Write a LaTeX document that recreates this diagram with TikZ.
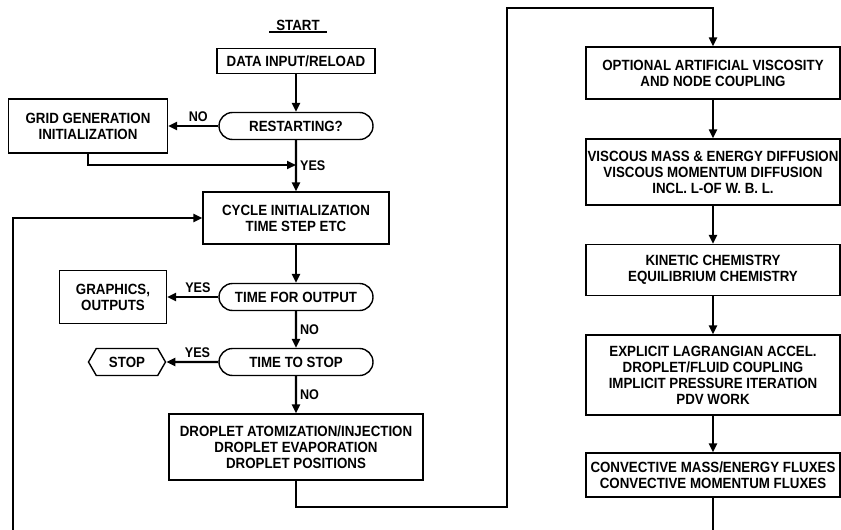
\documentclass[tikz,border=0pt]{standalone}
\usepackage{fontspec}
\setmainfont{Liberation Sans}[FakeStretch=0.9]
\usetikzlibrary{arrows.meta,shapes.misc,shapes.symbols}

\begin{document}
\begin{tikzpicture}[x=1pt,y=-1pt,>={Triangle[length=9pt,width=8pt]},
  font=\bfseries\fontsize{14.8}{16}\selectfont]
  \tikzstyle{process} = [rectangle, draw, line width=1.4pt, align=center, inner xsep=1pt, inner ysep=2pt]
  \tikzstyle{decision} = [rounded rectangle, draw, line width=1.4pt, minimum width=158pt,
                                    minimum height=27pt, inner sep=2pt]
  \tikzstyle{halt} = [signal, signal to=west and east, signal pointer angle=120, draw,
                                    line width=1.4pt, minimum width=77pt, minimum height=27pt, inner sep=2pt]
  \tikzstyle{link} = [line width=2.2pt]
  \tikzstyle{answer} = [font=\bfseries\fontsize{14}{15}\selectfont, inner sep=3pt]
\useasboundingbox (0,0) rectangle (841,530);
\node[inner xsep=7pt, inner ysep=1.5pt] (start) at (298,25) {START};
\draw[line width=1.4pt] (start.south west) -- (start.south east);
\node[process, minimum width=158pt, minimum height=25pt] (input) at (296,61) {DATA INPUT/RELOAD};
\node[decision] (restart) at (296,126) {RESTARTING?};
\node[process, minimum width=159pt, minimum height=54pt] (grid) at (88,126) {GRID GENERATION\\INITIALIZATION};
\node[process, minimum width=186pt, minimum height=52pt] (cycle) at (296,218) {CYCLE INITIALIZATION\\TIME STEP ETC};
\node[decision] (output) at (296,297) {TIME FOR OUTPUT};
\node[process, minimum width=107pt, minimum height=53pt] (graphics) at (113,297) {GRAPHICS,\\OUTPUTS};
\node[decision] (tstop) at (296,362) {TIME TO STOP};
\node[halt] (stop) at (127,362) {STOP};
\node[process, minimum width=254pt, minimum height=66pt] (droplet) at (296,447) {DROPLET ATOMIZATION/INJECTION\\DROPLET EVAPORATION\\DROPLET POSITIONS};
\node[process, minimum width=254pt, minimum height=52pt] (artvisc) at (713,73) {OPTIONAL ARTIFICIAL VISCOSITY\\AND NODE COUPLING};
\node[process, minimum width=254pt, minimum height=66pt] (diffusion) at (713,172) {VISCOUS MASS \& ENERGY DIFFUSION\\VISCOUS MOMENTUM DIFFUSION\\INCL. L-OF W. B. L.};
\node[process, minimum width=254pt, minimum height=51pt] (chem) at (713,270) {KINETIC CHEMISTRY\\EQUILIBRIUM CHEMISTRY};
\node[process, minimum width=254pt, minimum height=80pt] (lagr) at (713,375) {EXPLICIT LAGRANGIAN ACCEL.\\DROPLET/FLUID COUPLING\\IMPLICIT PRESSURE ITERATION\\PDV WORK};
\node[process, minimum width=254pt, minimum height=44pt] (convect) at (713,475) {CONVECTIVE MASS/ENERGY FLUXES\\CONVECTIVE MOMENTUM FLUXES};
\coordinate (yesjoin) at (296,165);
\coordinate (lowturn) at (507,507);
\coordinate (highturn) at (507,8);
\coordinate (loopfoot) at (13,531);
\coordinate (convfoot) at (713,531);
\draw[->,link] (input) -- (restart);
\draw[->,link] (restart) -- node[answer,above,pos=0.4]{NO} (grid);
\draw[->,link] (restart) -- node[answer,right]{YES} (cycle);
\draw[->,link] (grid) |- (yesjoin);
\draw[->,link] (cycle) -- (output);
\draw[->,link] (output) -- node[answer,above,pos=0.4]{YES} (graphics);
\draw[->,link] (output) -- node[answer,right]{NO} (tstop);
\draw[->,link] (tstop) -- node[answer,above,pos=0.4]{YES} (stop);
\draw[->,link] (tstop) -- node[answer,right]{NO} (droplet);
\draw[->,link] (droplet) |- (lowturn) -- (highturn) -| (artvisc);
\draw[->,link] (artvisc) -- (diffusion);
\draw[->,link] (diffusion) -- (chem);
\draw[->,link] (chem) -- (lagr);
\draw[->,link] (lagr) -- (convect);
\draw[link] (convect) -- (convfoot);
\draw[->,link] (loopfoot) |- (cycle);
\end{tikzpicture}
\end{document}
